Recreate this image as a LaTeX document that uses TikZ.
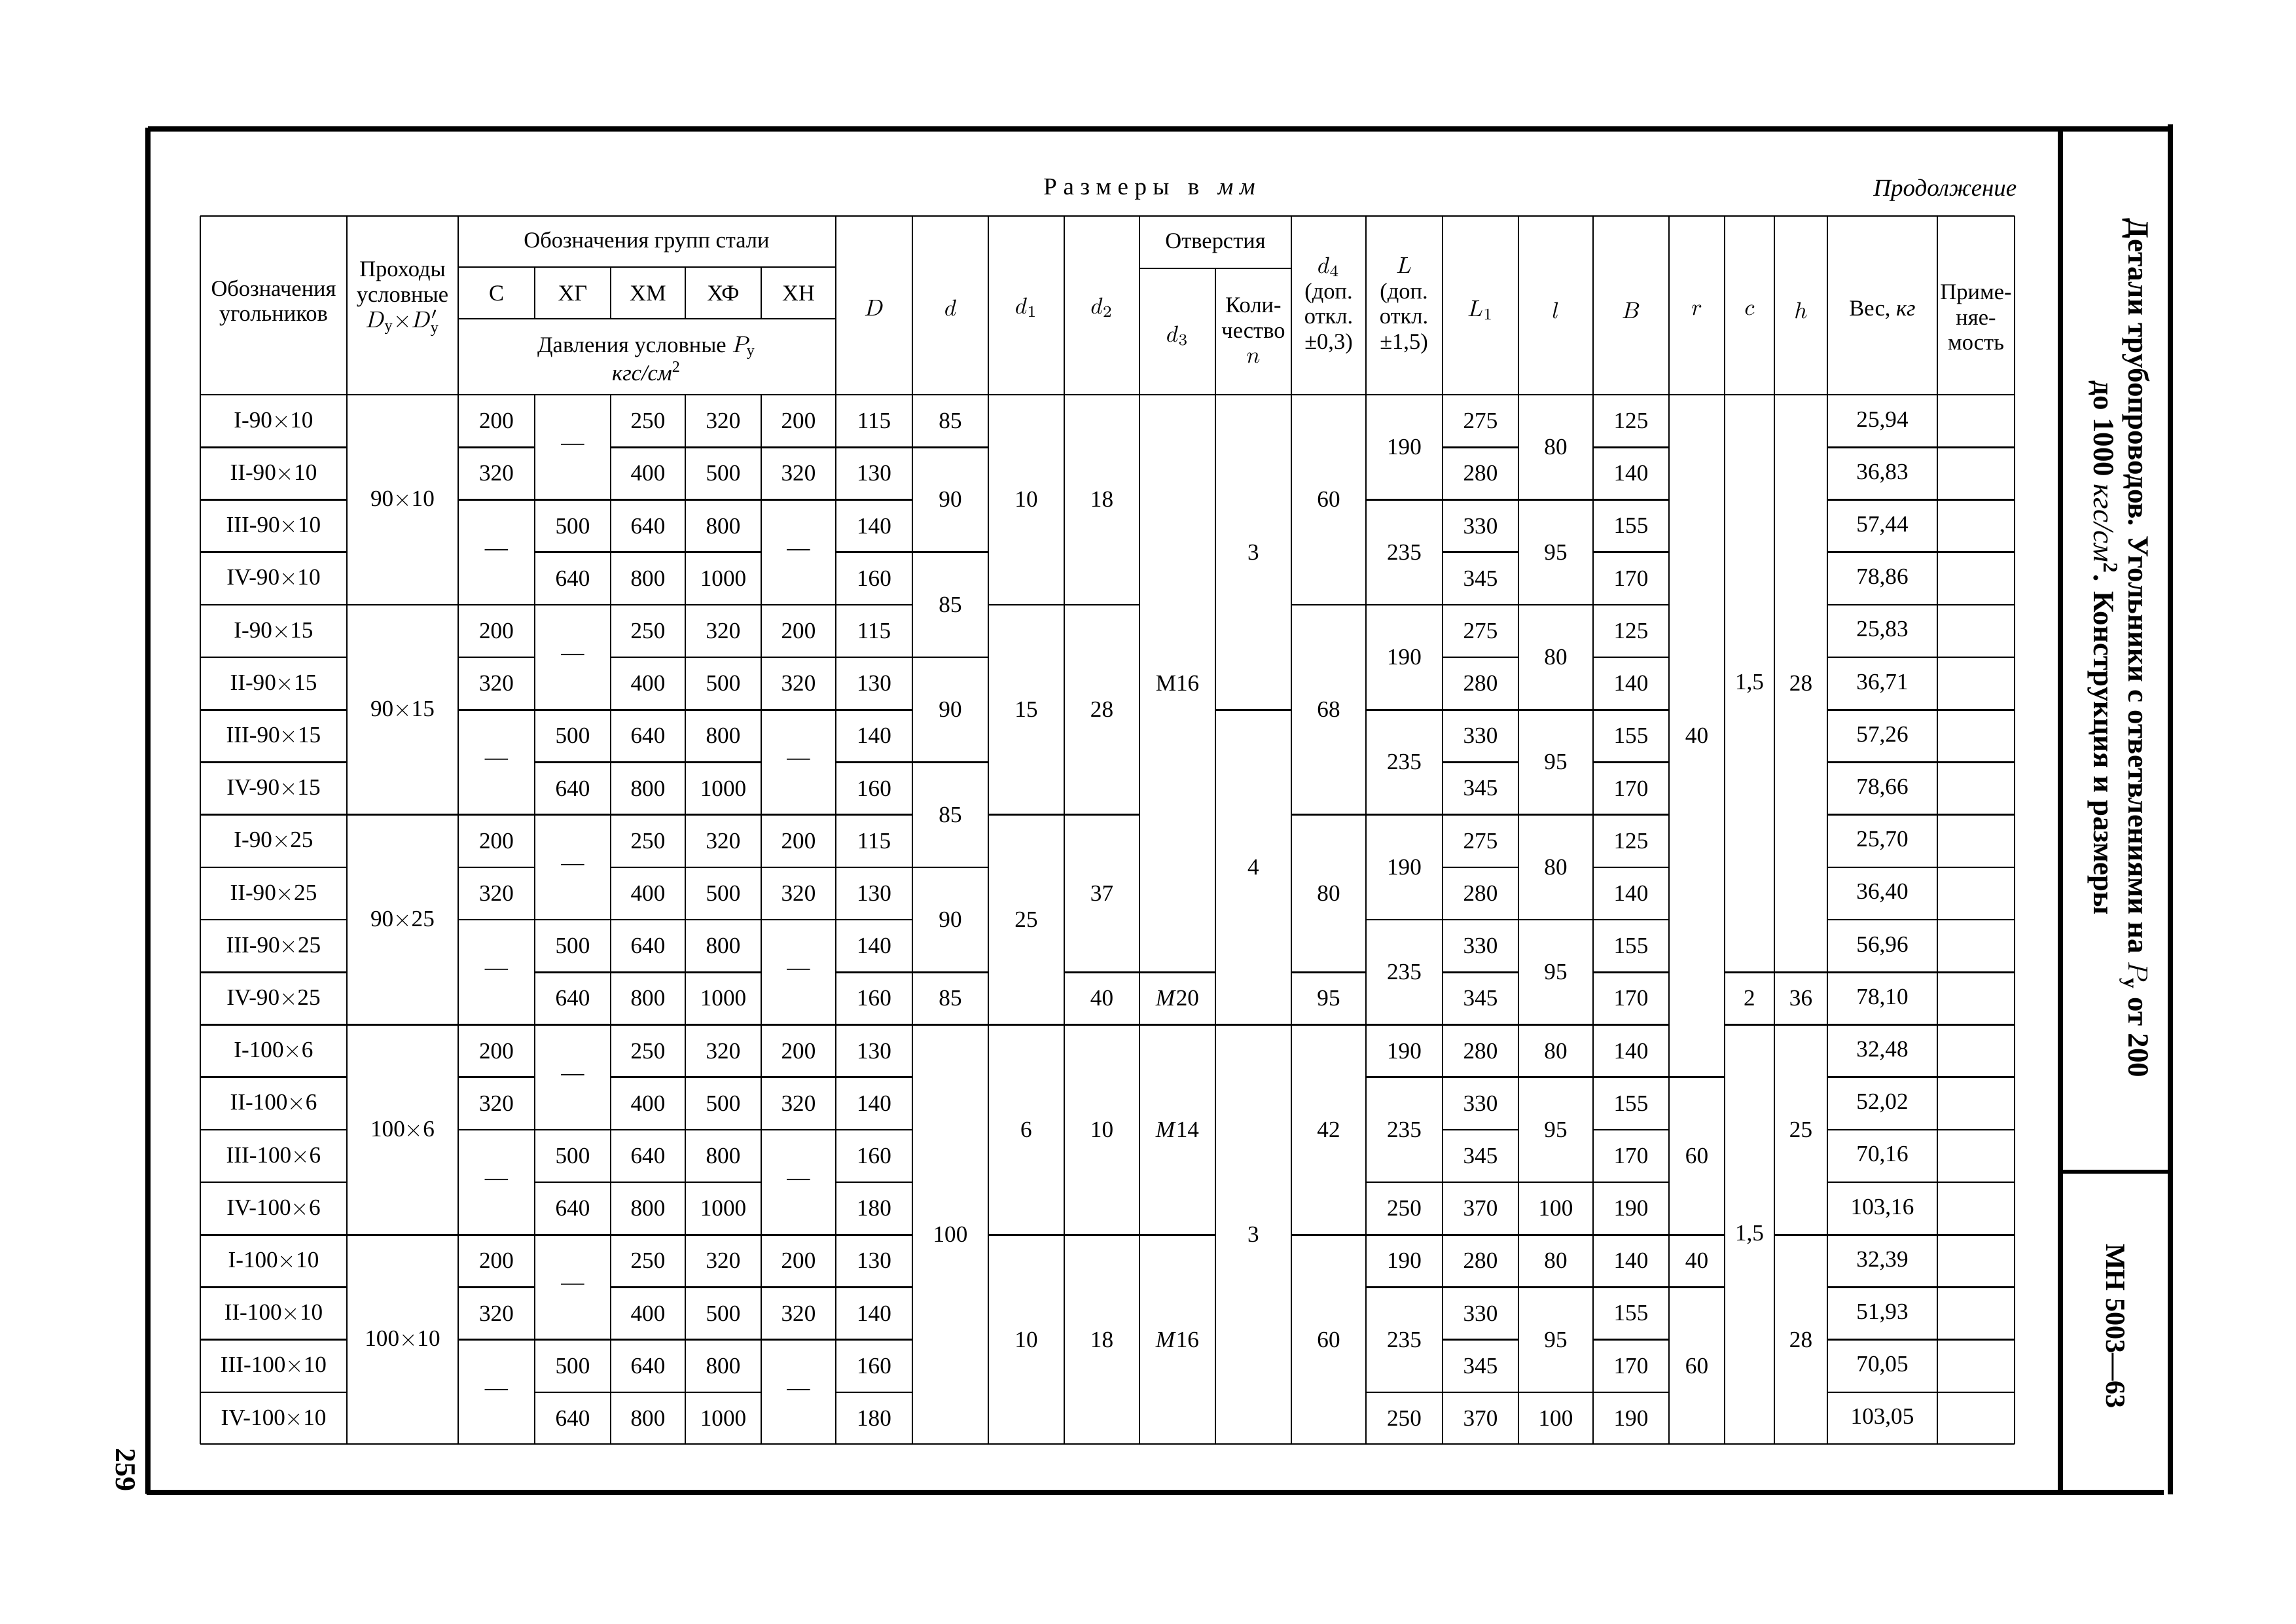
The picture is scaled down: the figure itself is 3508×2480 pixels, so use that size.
\documentclass[tikz,border=0pt]{standalone}
\usepackage{amsmath}
\usepackage{fontspec}
\setmainfont{Liberation Serif}
\usetikzlibrary{calc}

% column boundaries and rows of the table (page pixels)
\def\colx{{306,530,700,817,933,1047,1163,1277,1394,1510,1626,1741,1857,1973,2087,2204,2320,2434,2550,2635,2711,2792,2960,3078}}
\def\rowT{603}
\def\rowH{80.2}
\newcommand\lsp{\kern0.26em}

\newcommand\colmid[1]{%
  \pgfmathsetmacro\xa{\colx[#1]}%
  \pgfmathtruncatemacro\cnext{#1+1}%
  \pgfmathsetmacro\xb{\colx[\cnext]}%
  \pgfmathsetmacro\xx{(\xa+\xb)/2}}
\newcommand\tcell[4]{%
  \colmid{#1}%
  \pgfmathsetmacro\cym{\rowT+\rowH*(#2+#3-1)/2}%
  \pgfmathtruncatemacro\ra{#2}%
  \node[val] (v#1-\ra) at (\xx,\cym) {#4};}
\newcommand\tval[3]{\tcell{#1}{#2}{#2}{#3}}
\newcommand\hseg[2]{%
  \colmid{#1}%
  \pgfmathsetmacro\yy{\rowT+\rowH*#2}%
  \draw[rule] (\xa,\yy) -- (\xb,\yy);}

\begin{document}
\begin{tikzpicture}[x=0.01cm,y=-0.01cm,
    rule/.style={line width=0.75pt},
    frame/.style={line width=2.2pt},
    val/.style={font=\fontsize{10}{12}\selectfont,inner sep=0pt},
    head/.style={font=\fontsize{9.8}{11}\selectfont,align=center,inner sep=0pt}]

  \useasboundingbox (0,0) rectangle (3508,2480);

  % page frame
  \draw[frame] (226,197) -- (3316,197);
  \draw[frame] (226,195) -- (226,2282);
  \draw[frame] (224,2280) -- (3306,2280);
  \draw[frame] (3148,197) -- (3148,2278);
  \draw[frame] (3316,190) -- (3316,2283);
  \draw[line width=1.6pt] (3148,1790) -- (3316,1790);

  \node[font=\fontsize{12.8}{13.5}\selectfont\bfseries,rotate=-90,align=center] (title) at (3237,990)
    {Детали трубопроводов. Угольники с ответвлениями на $P_{\text{у}}$ от 200\\
     до 1000 {\mdseries\itshape кгс/см}\textsuperscript{2}. Конструкция и размеры};
  \node[font=\fontsize{12}{14}\selectfont\bfseries,rotate=-90] (code) at (3232,2026) {МН 5003—63};
  \node[font=\fontsize{12.5}{14}\selectfont\bfseries,rotate=-90] (page) at (192,2245) {259};

  \node[font=\fontsize{10.5}{12}\selectfont] (units) at (1756,289)
    {Р\lsp а\lsp з\lsp м\lsp е\lsp р\lsp ы\lsp\ \lsp в\lsp\ \lsp\textit{м\lsp м}};
  \node[font=\fontsize{10.5}{12}\selectfont\itshape,anchor=east,inner sep=0pt] (cont) at (3082,291) {Продолжение};

  % table rules
  \draw[rule] (306,330) -- (3078,330);
  \draw[rule] (306,603) -- (3078,603);
  \draw[rule] (306,2206) -- (3078,2206);
  \draw[rule] (700,408) -- (1277,408);
  \draw[rule] (700,487) -- (1277,487);
  \draw[rule] (1741,410) -- (1973,410);
  \foreach \b in {0,1,2,7,8,9,10,11,13,14,15,16,17,18,19,20,21,22,23} {
    \pgfmathsetmacro\xv{\colx[\b]}
    \draw[rule] (\xv,330) -- (\xv,2206);
  }
  \foreach \b in {3,4,5,6} {
    \pgfmathsetmacro\xv{\colx[\b]}
    \draw[rule] (\xv,408) -- (\xv,487);
    \draw[rule] (\xv,603) -- (\xv,2206);
  }
  \pgfmathsetmacro\xv{\colx[12]}
  \draw[rule] (\xv,410) -- (\xv,2206);

  % header
  \node[head] (h0) at (418,463) {Обозначения\\угольников};
  \node[head] (h1) at (615,457) {Проходы\\условные\\$D_{\text{у}}{\times}D'_{\text{у}}$};
  \node[head] (hst) at (988,370) {Обозначения групп стали};
  \foreach \t [count=\i from 2] in {С,ХГ,ХМ,ХФ,ХН} {
    \colmid{\i}
    \node[head] (hs\i) at (\xx,448) {\t};
  }
  \node[head] (hp) at (988,548) {Давления условные $P_{\text{у}}$\\\textit{кгс/см}\textsuperscript{2}};
  \foreach \t [count=\i from 7] in {$D$,$d$,$d_1$,$d_2$} {
    \colmid{\i}
    \node[head] (h\i) at (\xx,470) {\t};
  }
  \node[head] (hol) at (1857,372) {Отверстия};
  \node[head] (h11) at (1799,513) {$d_3$};
  \node[head] (h12) at (1915,505) {Коли-\\чество\\$n$};
  \node[head] (h13) at (2030,467) {$d_4$\\(доп.\\откл.\\±0,3)};
  \node[head] (h14) at (2145,467) {$L$\\(доп.\\откл.\\±1,5)};
  \foreach \t [count=\i from 15] in {$L_1$,$l$,$B$,$r$,$c$,$h$,{Вес, \textit{кг}}} {
    \colmid{\i}
    \node[head] (h\i) at (\xx,474) {\t};
  }
  \node[head] (h22) at (3019,485) {Приме-\\няе-\\мость};

  % body: designations, passages, steel groups
  \foreach \g/\s in {0/90{$\times$}10,1/90{$\times$}15,2/90{$\times$}25,3/100{$\times$}6,4/100{$\times$}10} {
    \foreach \rn [count=\i] in {I,II,III,IV} {\tval{0}{4*\g+\i}{\rn-\s}}
    \tcell{1}{4*\g+1}{4*\g+4}{\s}
    \tval{2}{4*\g+1}{200} \tval{2}{4*\g+2}{320} \tcell{2}{4*\g+3}{4*\g+4}{—}
    \tcell{3}{4*\g+1}{4*\g+2}{—} \tval{3}{4*\g+3}{500} \tval{3}{4*\g+4}{640}
    \foreach \v [count=\i] in {250,400,640,800} {\tval{4}{4*\g+\i}{\v}}
    \foreach \v [count=\i] in {320,500,800,1000} {\tval{5}{4*\g+\i}{\v}}
    \tval{6}{4*\g+1}{200} \tval{6}{4*\g+2}{320} \tcell{6}{4*\g+3}{4*\g+4}{—}
  }
  \foreach \v [count=\i] in {115,130,140,160,115,130,140,160,115,130,140,160,130,140,160,180,130,140,160,180} {\tval{7}{\i}{\v}}
  \foreach \v [count=\i] in {275,280,330,345,275,280,330,345,275,280,330,345,280,330,345,370,280,330,345,370} {\tval{15}{\i}{\v}}
  \foreach \v [count=\i] in {125,140,155,170,125,140,155,170,125,140,155,170,140,155,170,190,140,155,170,190} {\tval{17}{\i}{\v}}
  \foreach \v [count=\i] in {{25,94},{36,83},{57,44},{78,86},{25,83},{36,71},{57,26},{78,66},{25,70},{36,40},
      {56,96},{78,10},{32,48},{52,02},{70,16},{103,16},{32,39},{51,93},{70,05},{103,05}} {\tval{21}{\i}{\v}}

  % merged cells
  \foreach \c/\a/\b/\v in {8/1/1/85,8/2/3/90,8/4/5/85,8/6/7/90,8/8/9/85,8/10/11/90,8/12/12/85,8/13/20/100,
      9/1/4/10,9/5/8/15,9/9/12/25,9/13/16/6,9/17/20/10,
      10/1/4/18,10/5/8/28,10/9/11/37,10/12/12/40,10/13/16/10,10/17/20/18,
      11/1/11/M16,11/12/12/\textit{M}20,11/13/16/\textit{M}14,11/17/20/\textit{M}16,
      12/1/6/3,12/7/12/4,12/13/20/3,
      13/1/4/60,13/5/8/68,13/9/11/80,13/12/12/95,13/13/16/42,13/17/20/60,
      14/1/2/190,14/3/4/235,14/5/6/190,14/7/8/235,14/9/10/190,14/11/12/235,
      14/13/13/190,14/14/15/235,14/16/16/250,14/17/17/190,14/18/19/235,14/20/20/250,
      16/1/2/80,16/3/4/95,16/5/6/80,16/7/8/95,16/9/10/80,16/11/12/95,
      16/13/13/80,16/14/15/95,16/16/16/100,16/17/17/80,16/18/19/95,16/20/20/100,
      18/1/13/40,18/14/16/60,18/17/17/40,18/18/20/60,
      19/1/11/{1,5},19/12/12/2,19/13/20/{1,5},
      20/1/11/28,20/12/12/36,20/13/16/25,20/17/20/28} {\tcell{\c}{\a}{\b}{\v}}

  % row rules
  \foreach \c in {0,4,5,7,15,17,21,22} {\foreach \k in {1,...,19} {\hseg{\c}{\k}}}
  \foreach \c/\ks in {1/{4,8,12,16},9/{4,8,12,16},
      2/{1,2,4,5,6,8,9,10,12,13,14,16,17,18},6/{1,2,4,5,6,8,9,10,12,13,14,16,17,18},
      3/{2,3,4,6,7,8,10,11,12,14,15,16,18,19},
      8/{1,3,5,7,9,11,12},10/{4,8,11,12,16},11/{11,12,16},12/{6,12},13/{4,8,11,12,16},
      14/{2,4,6,8,10,12,13,15,16,17,19},16/{2,4,6,8,10,12,13,15,16,17,19},
      18/{13,16,17},19/{11,12},20/{11,12,16}} {\foreach \k in \ks {\hseg{\c}{\k}}}
\end{tikzpicture}
\end{document}
